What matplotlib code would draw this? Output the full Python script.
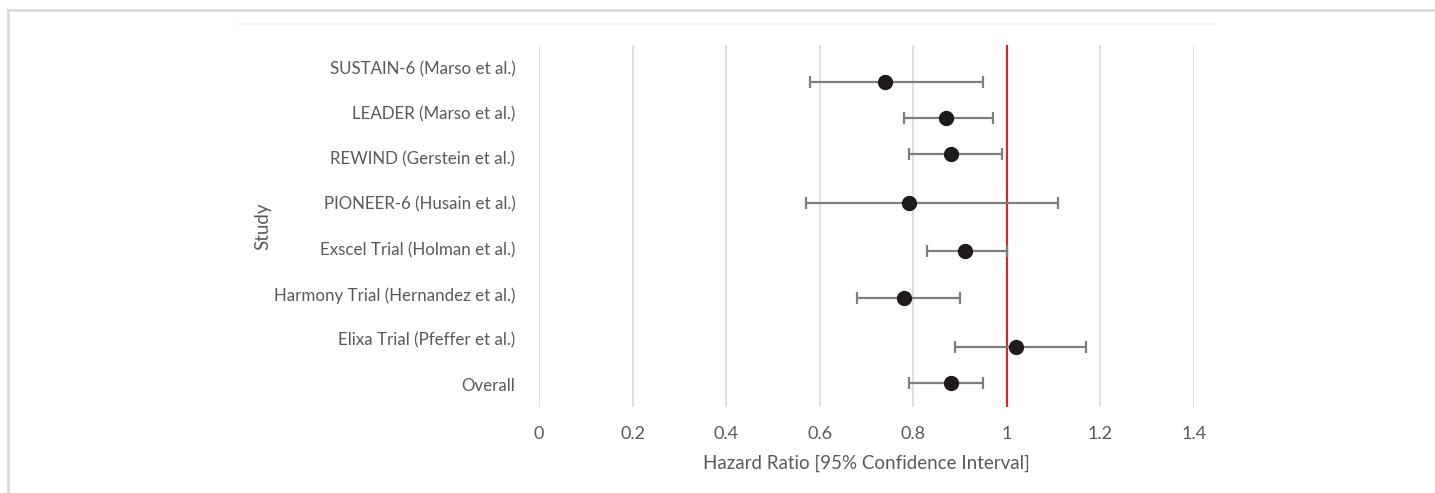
import matplotlib.pyplot as plt
import numpy as np

studies = ["SUSTAIN-6 (Marso et al.)", "LEADER (Marso et al.)", "REWIND (Gerstein et al.)",
           "PIONEER-6 (Husain et al.)", "Exscel Trial (Holman et al.)",
           "Harmony Trial (Hernandez et al.)", "Elixa Trial (Pfeffer et al.)", "Overall"]
hr = [0.74, 0.87, 0.88, 0.79, 0.91, 0.78, 1.02, 0.88]
ci_low = [0.58, 0.78, 0.79, 0.57, 0.83, 0.68, 0.89, 0.79]
ci_high = [0.95, 0.97, 0.99, 1.11, 1.00, 0.90, 1.17, 0.95]
# vertical position of each point (as plotted in the source, not centred on labels)
point_y = [7.18, 6.39, 5.59, 4.51, 3.45, 2.41, 1.33, 0.53]
xticks = [0, 0.2, 0.4, 0.6, 0.8, 1, 1.2, 1.4]
xtick_labels = ["0", "0.2", "0.4", "0.6", "0.8", "1", "1.2", "1.4"]

plt.rcParams['font.family'] = ['Lato', 'DejaVu Sans']
txt = '#595959'

fig = plt.figure(figsize=(14.35, 4.93), dpi=100)
ax = fig.add_axes([539/1435, 86/493, 655/1435, 362/493])

hr_a = np.array(hr)
err = [hr_a - np.array(ci_low), np.array(ci_high) - hr_a]
ax.errorbar(hr, point_y, xerr=err, fmt='o', color='#1f1a1c', markersize=10,
            ecolor='#7f7f7f', elinewidth=1.6, capsize=4.5, capthick=1.6, zorder=3)
ax.axvline(1, color='#c0312b', linewidth=1.6, zorder=2)

ax.set_xlim(0, 1.4)
ax.set_ylim(0, 8)
ax.set_xticks(xticks)
ax.set_xticklabels(xtick_labels)
ax.set_yticks(np.arange(len(studies))[::-1] + 0.5)
ax.set_yticklabels(studies)
ax.grid(axis='x', color='#d9d9d9', linewidth=1.2)
ax.set_axisbelow(True)
for s in ax.spines.values():
    s.set_visible(False)
ax.tick_params(axis='x', length=0, labelsize=13, labelcolor=txt, pad=14)
ax.tick_params(axis='y', length=0, labelsize=12.2, labelcolor=txt, pad=17)
ax.set_xlabel("Hazard Ratio [95% Confidence Interval]", fontsize=13.5, color=txt, labelpad=9)
ax.set_ylabel("Study", fontsize=13.5, color=txt, labelpad=2)

# outer frame lines
fig.add_artist(plt.Line2D([8/1435, 1], [1 - 10/493, 1 - 10/493], color='#d9d9d9', linewidth=1.8))
fig.add_artist(plt.Line2D([8/1435, 8/1435], [0, 1 - 10/493], color='#d9d9d9', linewidth=1.8))
fig.add_artist(plt.Line2D([238/1435, 1217/1435], [1 - 24/493, 1 - 24/493], color='#f0f0f0', linewidth=1.2))

fig.savefig('out.png', dpi=100)
